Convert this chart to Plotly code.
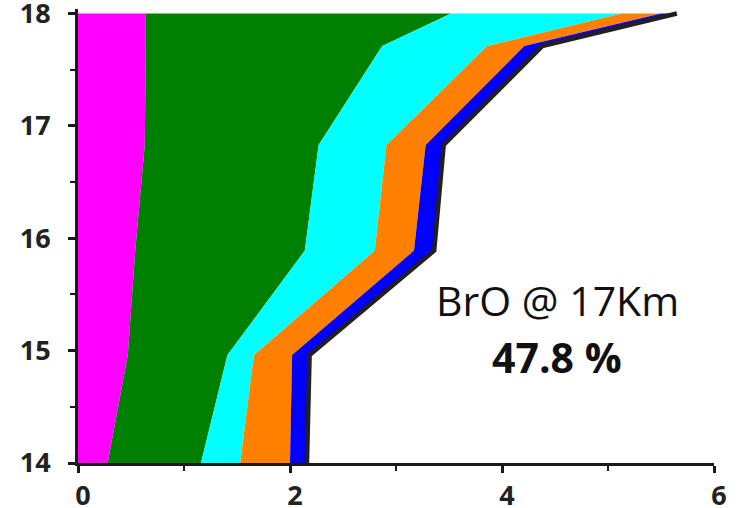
import plotly.graph_objects as go

# Altitude levels (km)
altitude = [14.0, 14.96, 15.89, 16.83, 17.71, 18.0]

# Stacked contributions at each altitude level
magenta_part = [0.28, 0.47, 0.54, 0.63, 0.64, 0.64]
green_part = [0.88, 0.94, 1.60, 1.64, 2.23, 2.88]
cyan_part = [0.37, 0.25, 0.66, 0.64, 0.99, 1.61]
orange_part = [0.47, 0.36, 0.37, 0.37, 0.35, 0.37]
blue_part = [0.16, 0.165, 0.19, 0.17, 0.17, 0.15]

x_ticks = [0, 2, 4, 6]
y_ticks = [14, 15, 16, 17, 18]

label_line1 = "BrO @ 17Km"
label_line2 = "47.8 %"

layers = [
    (magenta_part, "#FF00FF"),
    (green_part, "#008000"),
    (cyan_part, "#00FFFF"),
    (orange_part, "#FF8000"),
]

fig = go.Figure()
for vals, col in layers:
    fig.add_trace(go.Scatter(
        x=vals, y=altitude, orientation="h", stackgroup="profile",
        mode="lines", line=dict(width=0, color=col), fillcolor=col,
        hoverinfo="skip", showlegend=False,
    ))

# Top layer, outlined by the total profile line
fig.add_trace(go.Scatter(
    x=blue_part, y=altitude, orientation="h", stackgroup="profile",
    mode="lines", line=dict(width=4.5, color="#231F20"), fillcolor="#0000FF",
    hoverinfo="skip", showlegend=False,
))

tick_font = dict(family="Open Sans", size=27, color="#222222", weight="bold")

fig.update_xaxes(
    range=[0, 6], tickvals=x_ticks, ticktext=[str(v) for v in x_ticks],
    showline=True, linecolor="#1a1a1a", linewidth=3,
    ticks="outside", ticklen=7, tickwidth=3, tickcolor="#1a1a1a",
    minor=dict(dtick=1, ticks="outside", ticklen=5, tickwidth=2, tickcolor="#1a1a1a"),
    showgrid=False, zeroline=False, tickfont=tick_font, ticklabelstandoff=0,
    ticklabelshift=5, automargin=False, ticklabeloverflow="allow",
)
fig.update_yaxes(
    range=[14, 18.04], tickvals=y_ticks, ticktext=[str(v) for v in y_ticks],
    showline=True, linecolor="#1a1a1a", linewidth=3,
    ticks="outside", ticklen=7, tickwidth=3, tickcolor="#1a1a1a",
    minor=dict(dtick=0.5, ticks="outside", ticklen=5, tickwidth=2, tickcolor="#1a1a1a"),
    showgrid=False, zeroline=False, tickfont=tick_font, ticklabelstandoff=12,
    automargin=False, ticklabeloverflow="allow",
)

fig.add_annotation(
    x=4.52, y=15.45, xref="x", yref="y", text=label_line1, showarrow=False,
    font=dict(family="Open Sans", size=41, color="#111111"),
    xanchor="center", yanchor="middle",
)
fig.add_annotation(
    x=4.52, y=14.94, xref="x", yref="y", text="<b>" + label_line2 + "</b>", showarrow=False,
    font=dict(family="Open Sans", size=41, color="#111111"),
    xanchor="center", yanchor="middle",
)

fig.update_layout(
    width=741, height=508,
    margin=dict(l=78, r=27, t=9, b=45, autoexpand=False),
    plot_bgcolor="white", paper_bgcolor="white",
    showlegend=False,
)

fig.write_html("out.html")
